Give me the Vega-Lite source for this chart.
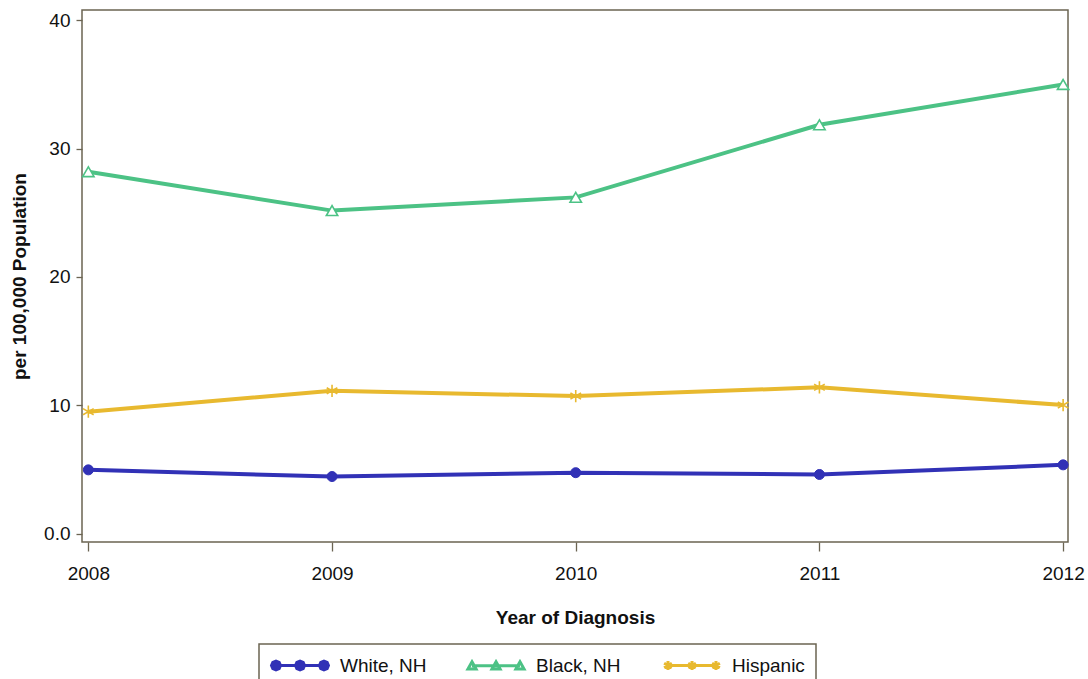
{
  "$schema": "https://vega.github.io/schema/vega-lite/v6.json",
  "width": 986,
  "height": 532,
  "autosize": {"type": "none"},
  "padding": {"left": 82, "top": 10, "right": 20, "bottom": 137},
  "background": "white",
  "config": {
    "font": "Liberation Sans",
    "view": {"stroke": "#6b6452", "strokeWidth": 1.5},
    "axis": {"grid": false, "domain": false, "tickColor": "#6b6452", "tickWidth": 1.3, "labelFont": "Liberation Sans", "labelFontSize": 19, "labelColor": "#111111", "titleFont": "Liberation Sans", "titleFontSize": 19, "titleFontWeight": "bold", "titleColor": "#111111"}
  },
  "data": {
    "values": [
      {"year": 2008, "group": "White, NH", "rate": 4.97},
      {"year": 2009, "group": "White, NH", "rate": 4.45},
      {"year": 2010, "group": "White, NH", "rate": 4.75},
      {"year": 2011, "group": "White, NH", "rate": 4.61},
      {"year": 2012, "group": "White, NH", "rate": 5.36},
      {"year": 2008, "group": "Black, NH", "rate": 28.2},
      {"year": 2009, "group": "Black, NH", "rate": 25.17},
      {"year": 2010, "group": "Black, NH", "rate": 26.2},
      {"year": 2011, "group": "Black, NH", "rate": 31.86},
      {"year": 2012, "group": "Black, NH", "rate": 35.0},
      {"year": 2008, "group": "Hispanic", "rate": 9.5},
      {"year": 2009, "group": "Hispanic", "rate": 11.13},
      {"year": 2010, "group": "Hispanic", "rate": 10.72},
      {"year": 2011, "group": "Hispanic", "rate": 11.4},
      {"year": 2012, "group": "Hispanic", "rate": 10.02}
    ]
  },
  "encoding": {
    "x": {
      "field": "year", "type": "quantitative",
      "scale": {"domain": [2007.974, 2012.02], "nice": false, "zero": false},
      "axis": {"title": "Year of Diagnosis", "values": [2008, 2009, 2010, 2011, 2012], "format": "d", "tickSize": 9, "labelPadding": 13, "titlePadding": 25}
    },
    "y": {
      "field": "rate", "type": "quantitative",
      "scale": {"domain": [-0.65, 40.8], "nice": false, "zero": false},
      "axis": {"title": "per 100,000 Population", "values": [0, 10, 20, 30, 40], "labelExpr": "datum.value == 0 ? '0.0' : datum.label", "tickSize": 6, "labelPadding": 6, "titlePadding": 14}
    }
  },
  "layer": [
    {
      "mark": {"type": "line", "strokeWidth": 4},
      "encoding": {
        "color": {
          "field": "group", "type": "nominal",
          "scale": {"domain": ["White, NH", "Black, NH", "Hispanic"], "range": ["#3131b6", "#4cc285", "#e8b92f"]},
          "legend": {
            "title": null,
            "orient": "none",
            "legendX": 177,
            "legendY": 634,
            "direction": "horizontal",
            "columns": 3,
            "gridAlign": "all",
            "symbolSize": 324,
            "symbolStrokeWidth": 3,
            "labelOffset": 49,
            "labelFontSize": 19,
            "labelFont": "Liberation Sans",
            "labelColor": "#111111",
            "columnPadding": 34,
            "padding": 11,
            "strokeColor": "#6b6452",
            "fillColor": "white",
            "encode": {
              "legend": {"update": {"strokeWidth": {"value": 1.5}}},
              "symbols": {
                "update": {
                  "shape": {"signal": "datum.value === 'White, NH' ? 'M-0.5,0L4.83,0M0,0L-0.146,0.354L-0.5,0.5L-0.854,0.354L-1,0L-0.854,-0.354L-0.5,-0.5L-0.146,-0.354ZM2.67,0L2.524,0.354L2.17,0.5L1.816,0.354L1.67,0L1.816,-0.354L2.17,-0.5L2.524,-0.354ZM5.33,0L5.184,0.354L4.83,0.5L4.476,0.354L4.33,0L4.476,-0.354L4.83,-0.5L5.184,-0.354Z' : datum.value === 'Black, NH' ? 'M-0.5,0L4.83,0M-0.5,-0.45L-0.05,0.35L-0.95,0.35ZM2.17,-0.45L2.62,0.35L1.72,0.35ZM4.83,-0.45L5.28,0.35L4.38,0.35Z' : 'M-0.5,0L4.83,0M-0.5,-0.5L-0.5,0.5M-0.93,-0.25L-0.07,0.25M-0.93,0.25L-0.07,-0.25M2.17,-0.5L2.17,0.5M1.74,-0.25L2.6,0.25M1.74,0.25L2.6,-0.25M4.83,-0.5L4.83,0.5M4.4,-0.25L5.26,0.25M4.4,0.25L5.26,-0.25'"},
                  "fill": {"signal": "datum.value === 'White, NH' ? '#3131b6' : datum.value === 'Black, NH' ? 'white' : 'transparent'"},
                  "stroke": {"signal": "datum.value === 'White, NH' ? '#3131b6' : datum.value === 'Black, NH' ? '#4cc285' : '#e8b92f'"},
                  "strokeWidth": {"value": 3},
                  "opacity": {"value": 1}
                }
              }
            }
          }
        }
      }
    },
    {
      "transform": [{"filter": "datum.group === 'White, NH'"}],
      "mark": {"type": "point", "shape": "circle", "size": 100, "filled": true, "fill": "#3131b6", "stroke": "#3131b6", "strokeWidth": 1, "opacity": 1}
    },
    {
      "transform": [{"filter": "datum.group === 'Black, NH'"}],
      "mark": {"type": "point", "shape": "triangle-up", "size": 130, "fill": "#ffffff", "stroke": "#4cc285", "strokeWidth": 1.6, "opacity": 1}
    },
    {
      "transform": [{"filter": "datum.group === 'Hispanic'"}],
      "mark": {"type": "point", "shape": "M0,-1L0,1M-0.87,-0.5L0.87,0.5M-0.87,0.5L0.87,-0.5", "size": 150, "fill": "transparent", "stroke": "#e8b92f", "strokeWidth": 1.6, "opacity": 1}
    }
  ]
}
